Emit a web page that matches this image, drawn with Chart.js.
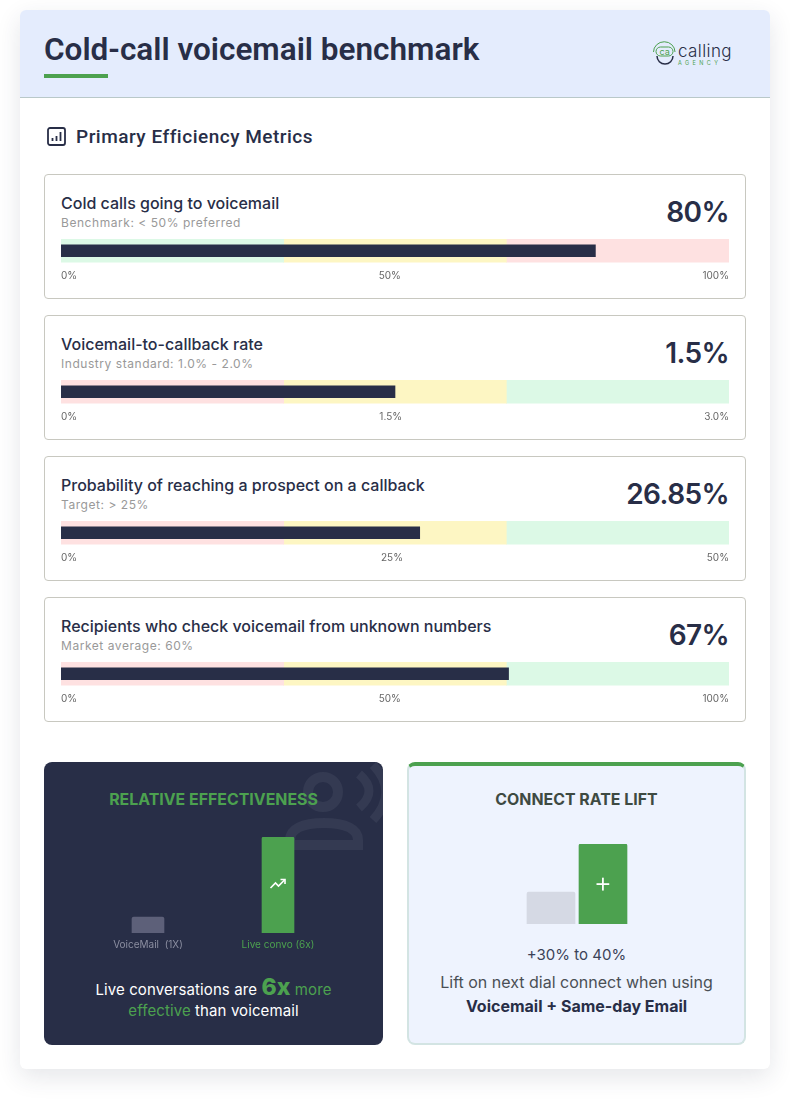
<!DOCTYPE html>
<html>
<head>
<meta charset="utf-8">
<script src="https://cdn.jsdelivr.net/npm/chart.js@4"></script>
<style>
  html, body { margin: 0; padding: 0; background: #fff; }
  body { position: relative; width: 790px; height: 1099px; overflow: hidden; font-family: Inter, sans-serif; color: #282e47; }
  .abs { position: absolute; white-space: nowrap; }
  #sheet { position: absolute; left: 20px; top: 10px; width: 750px; height: 1059px; background: #fff; border-radius: 6px; box-shadow: 0 8px 24px rgba(40, 46, 71, 0.12); }
  #head { position: absolute; left: 20px; top: 10px; width: 750px; height: 87px; background: #e4ecfd; border-bottom: 1px solid #b9c8c9; border-radius: 6px 6px 0 0; }
  #mainTitle { left: 44px; top: 30px; font: 600 31.5px/40px Roboto, sans-serif; }
  #rule { position: absolute; left: 44px; top: 74px; width: 64px; height: 4px; background: #4ca14f; }
  #sectionTitle { left: 76px; top: 125px; font: 500 19px/24px Roboto, sans-serif; letter-spacing: 0.5px; }
  .metric { position: absolute; left: 44px; width: 700px; height: 123px; border: 1px solid #c8c8c0; border-radius: 4px; background: #fff; }
  .mName { position: absolute; left: 16px; top: 18px; font: 450 16px/20px Inter, sans-serif; white-space: nowrap; }
  .mNote { position: absolute; left: 16px; top: 40px; font: 400 12px/15px Inter, sans-serif; color: #999; letter-spacing: 0.55px; white-space: nowrap; }
  .mValue { position: absolute; right: 16px; top: 17px; font: 600 28px/40px Inter, sans-serif; letter-spacing: -0.6px; white-space: nowrap; }
  .metric canvas { position: absolute; left: 16px; top: 64px; }
  #darkCard { position: absolute; left: 44px; top: 762px; width: 339px; height: 283px; background: #282e47; border-radius: 8px; overflow: hidden; }
  #lightCard { position: absolute; left: 407px; top: 762px; width: 335px; height: 277px; background: #eef3fe; border: 2px solid #d3e4e3; border-top: 4px solid #4ca14f; border-radius: 8px; }
  .cardTitle { font: 700 15.9px/20px Inter, sans-serif; text-align: center; }
  .center { text-align: center; }
</style>
</head>
<body>
<div id="sheet"></div>
<div id="head"></div>
<div class="abs" id="mainTitle">Cold-call voicemail benchmark</div>
<div id="rule"></div>

<!-- logo -->
<svg class="abs" style="left:652px;top:40px" width="84" height="30" viewBox="0 0 84 30">
  <path d="M1.500 12 A10.500 10 0 0 1 23 12" fill="none" stroke="#4ca14f" stroke-width="1"/>
  <rect x="4" y="7" width="17" height="9" rx="4.500" fill="none" stroke="#4ca14f" stroke-width="1"/>
  <path d="M5 16 A8 8 0 0 0 21 16" fill="none" stroke="#282e47" stroke-width="1.500"/>
  <text x="7.500" y="14.500" font-family="Inter" font-size="9" fill="#4ca14f">ca</text>
  <text x="26" y="17" font-family="Inter" font-weight="300" font-size="17" letter-spacing="0.4" fill="#282e47">calling</text>
  <text x="26" y="25" font-family="Inter" font-size="5.500" letter-spacing="3.400" fill="#4ca14f">AGENCY</text>
</svg>

<!-- section icon -->
<svg class="abs" style="left:47px;top:127px" width="19" height="19" viewBox="0 0 19 19">
  <rect x="1" y="1" width="17" height="17" rx="2" fill="none" stroke="#282e47" stroke-width="1.800"/>
  <path d="M5.500 14v-3M9.500 14V9M13.500 14V5" stroke="#282e47" stroke-width="1.800"/>
</svg>
<div class="abs" id="sectionTitle">Primary Efficiency Metrics</div>

<div id="metrics"></div>

<div id="darkCard">
  <svg style="position:absolute;left:230px;top:0" width="109" height="100" viewBox="0 0 109 100">
    <circle cx="49" cy="30" r="15" fill="none" stroke="#343a52" stroke-width="10"/>
    <path d="M84 83 H16 V78 C16 67 28 61 50 61 C72 61 84 67 84 78 Z" fill="none" stroke="#343a52" stroke-width="10"/>
    <path d="M85 12 Q105 29 85 46" fill="none" stroke="#343a52" stroke-width="9"/>
    <path d="M99 3 Q125 30 99 58" fill="none" stroke="#343a52" stroke-width="9"/>
  </svg>
  <div class="abs cardTitle" style="left:0;width:339px;top:28px;color:#4ca14f">RELATIVE EFFECTIVENESS</div>
  <div class="abs center" style="left:0;width:339px;top:215px;font:400 15px/21px Inter,sans-serif;color:#fff;letter-spacing:0.1px">Live conversations are <span style="font:800 23px/20px Inter,sans-serif;color:#4ca14f">6x</span> <span style="color:#4ca14f">more</span><br><span style="color:#4ca14f">effective</span> than voicemail</div>
</div>
<canvas class="abs" id="effectChart" width="260" height="120" style="left:83px;top:837px;width:260px;height:120px"></canvas>
<svg class="abs" style="left:269px;top:877px" width="18" height="14" viewBox="0 0 18 14">
  <path d="M1.500 11 L6.500 6 L9.500 9 L15.500 3" fill="none" stroke="#fff" stroke-width="1.600"/>
  <path d="M11.500 2.500 H16 V7" fill="none" stroke="#fff" stroke-width="1.600"/>
</svg>

<div id="lightCard">
  <div class="abs cardTitle" style="left:0;width:335px;top:24px;color:#3e4a42">CONNECT RATE LIFT</div>
  <div class="abs center" style="left:0;width:335px;top:179px;font:400 15px/20px Inter,sans-serif;color:#3b4258">+30% to 40%</div>
  <div class="abs center" style="left:0;width:335px;top:204px;font:400 16px/24px Inter,sans-serif;color:#4a4f55">Lift on next dial connect when using</div>
  <div class="abs center" style="left:0;width:335px;top:228px;font:700 16px/24px Inter,sans-serif;color:#282e47">Voicemail + Same-day Email</div>
</div>
<canvas class="abs" id="liftChart" width="104" height="80" style="left:525px;top:844px;width:104px;height:80px"></canvas>
<div class="abs center" style="left:579px;width:48px;top:867px;font:300 28px/30px Inter,sans-serif;color:#fff">+</div>

<script>
// Primary metrics
const metricNames = [
    'Cold calls going to voicemail',
    'Voicemail-to-callback rate',
    'Probability of reaching a prospect on a callback',
    'Recipients who check voicemail from unknown numbers'
];
const metricNotes = [
    'Benchmark: < 50% preferred',
    'Industry standard: 1.0% - 2.0%',
    'Target: > 25%',
    'Market average: 60%'
];
const metricValues = [80, 1.5, 26.85, 67];
const metricUnit = '%';
const metricMax = [100, 3, 50, 100];
const metricTicks = [
    ['0%', '50%', '100%'],
    ['0%', '1.5%', '3.0%'],
    ['0%', '25%', '50%'],
    ['0%', '50%', '100%']
];
const metricTickValues = [
    [0, 50, 100],
    [0, 1.5, 3],
    [0, 25, 50],
    [0, 50, 100]
];
// band edges for each metric: start of band 1, 2, 3 and end of band 3
const metricBands = [
    [0, 33.33, 66.67, 100],
    [0, 1, 2, 3],
    [0, 16.67, 33.33, 50],
    [0, 33.33, 66.67, 100]
];
const GREEN_BAND = '#dcf9e6';
const YELLOW_BAND = '#fdf6c3';
const RED_BAND = '#fee1e1';
const metricBandColors = [
    [GREEN_BAND, YELLOW_BAND, RED_BAND],
    [RED_BAND, YELLOW_BAND, GREEN_BAND],
    [RED_BAND, YELLOW_BAND, GREEN_BAND],
    [RED_BAND, YELLOW_BAND, GREEN_BAND]
];
const cardTops = [174, 315, 456, 597];

// Bottom cards
const effectLabels = ['VoiceMail  (1X)', 'Live convo (6x)'];
const effectValues = [1, 6];
const effectColors = ['#5d6079', '#4ca14f'];
const effectLabelColors = ['#8b8ea0', '#4ca14f'];

const liftLabels = ['Baseline', 'With lift'];
const liftValues = [1, 2.5];
const liftColors = ['#d5d9e4', '#4ca14f'];

const TICK_FONT = '400 10px Inter';

function createMetricChart(canvas, i) {
    const bands = metricBands[i];
    const bandSets = metricBandColors[i].map((color, b) => ({
        data: [[bands[b], bands[b + 1]]],
        backgroundColor: color,
        barThickness: 24,
        grouped: false
    }));

    new Chart(canvas, {
        type: 'bar',
        data: {
            labels: [metricNames[i]],
            datasets: [
                {
                    data: [metricValues[i]],
                    backgroundColor: '#282e47',
                    barThickness: 12,
                    grouped: false
                },
                ...bandSets
            ]
        },
        options: {
            indexAxis: 'y',
            responsive: false,
            animation: false,
            plugins: { legend: { display: false }, tooltip: { enabled: false } },
            layout: { padding: 0 },
            scales: {
                y: { display: false },
                x: {
                    min: 0,
                    max: metricMax[i],
                    grid: { display: false, drawTicks: false },
                    border: { display: false },
                    // middle label sits between the two end labels, not on the exact mid value
                    afterBuildTicks: scale => {
                        const ctx = scale.ctx;
                        ctx.font = TICK_FONT;
                        const labels = metricTicks[i];
                        const shift = (ctx.measureText(labels[0]).width - ctx.measureText(labels[2]).width) / 2;
                        scale.ticks = metricTickValues[i].map((v, t) => ({
                            value: t === 1 ? v + shift / scale.width * metricMax[i] : v
                        }));
                    },
                    // tick padding would otherwise inset the track from the canvas edges
                    afterFit: scale => {
                        scale.paddingLeft = 0;
                        scale.paddingRight = 0;
                    },
                    ticks: {
                        autoSkip: false,
                        maxRotation: 0,
                        align: 'inner',
                        padding: 7,
                        color: '#666',
                        font: { family: 'Inter', size: 10 },
                        callback: (value, index) => metricTicks[i][index]
                    }
                }
            }
        }
    });
}

function createColumnChart(id, labels, values, colors, max, thickness, showAxis, labelColors) {
    new Chart(document.getElementById(id), {
        type: 'bar',
        data: {
            labels: labels,
            datasets: [{
                data: values,
                backgroundColor: colors,
                barThickness: thickness,
                borderRadius: { topLeft: 2, topRight: 2 },
                borderSkipped: 'bottom'
            }]
        },
        options: {
            responsive: false,
            animation: false,
            plugins: { legend: { display: false }, tooltip: { enabled: false } },
            layout: { padding: 0 },
            scales: {
                y: { display: false, min: 0, max: max },
                x: {
                    display: showAxis,
                    grid: { display: false, drawTicks: false },
                    border: { display: false },
                    ticks: {
                        padding: 6,
                        maxRotation: 0,
                        color: labelColors,
                        font: { family: 'Inter', size: 10 }
                    }
                }
            }
        }
    });
}

const holder = document.getElementById('metrics');
metricNames.forEach((name, i) => {
    const card = document.createElement('div');
    card.className = 'metric';
    card.style.top = cardTops[i] + 'px';
    const nameEl = document.createElement('div');
    nameEl.className = 'mName';
    nameEl.textContent = name;
    const noteEl = document.createElement('div');
    noteEl.className = 'mNote';
    noteEl.textContent = metricNotes[i];
    const valueEl = document.createElement('div');
    valueEl.className = 'mValue';
    valueEl.textContent = metricValues[i] + metricUnit;
    const canvas = document.createElement('canvas');
    canvas.width = 668;
    canvas.height = 47;
    canvas.style.width = '668px';
    canvas.style.height = '47px';
    card.append(nameEl, noteEl, valueEl, canvas);
    holder.appendChild(card);
    createMetricChart(canvas, i);
});

createColumnChart('effectChart', effectLabels, effectValues, effectColors, 6, 32, true, effectLabelColors);
createColumnChart('liftChart', liftLabels, liftValues, liftColors, 2.5, 48, false, liftColors);
</script>
</body>
</html>
